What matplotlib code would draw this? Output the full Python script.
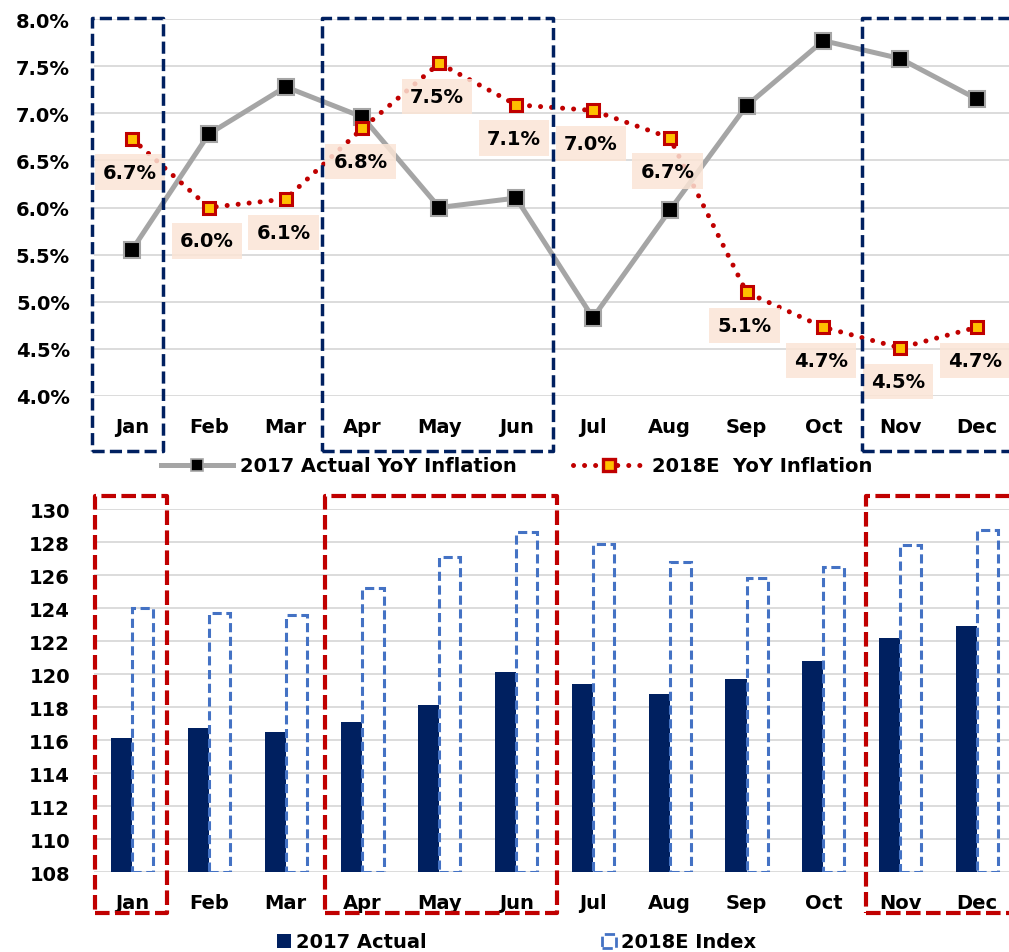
import numpy as np
import matplotlib
matplotlib.use("Agg")
import matplotlib.pyplot as plt
from matplotlib.patches import Rectangle, Patch
from matplotlib.lines import Line2D
from matplotlib.ticker import MultipleLocator, FuncFormatter
from matplotlib.transforms import blended_transform_factory

months = ["Jan", "Feb", "Mar", "Apr", "May", "Jun",
          "Jul", "Aug", "Sep", "Oct", "Nov", "Dec"]

# YoY inflation, %
infl_2017 = [5.55, 6.78, 7.28, 6.96, 6.00, 6.10, 4.83, 5.97, 7.08, 7.77, 7.58, 7.15]
infl_2018e = [6.73, 6.00, 6.09, 6.84, 7.53, 7.09, 7.03, 6.74, 5.10, 4.73, 4.51, 4.73]

# price index
index_2017 = [116.1, 116.7, 116.5, 117.1, 118.1, 120.1, 119.4, 118.8, 119.7, 120.8, 122.2, 122.9]
index_2018e = [124.0, 123.7, 123.6, 125.2, 127.1, 128.6, 127.9, 126.8, 125.8, 126.5, 127.8, 128.7]

NAVY = "#002060"
RED = "#C00000"
GREY = "#A5A5A5"
BLUE = "#4472C4"
GOLD = "#FFC000"
PEACH = "#FBE5D6"
GRID = "#D9D9D9"

plt.rcParams["font.family"] = "DejaVu Sans"
plt.rcParams["font.weight"] = "bold"

fig = plt.figure(figsize=(10.09, 9.53), dpi=100)
W, H = 1009.0, 953.0
# axes placed in pixel terms (left, bottom px of plot area)
ax1 = fig.add_axes([93.6 / W, (H - 397) / H, 921.8 / W, 377 / H])
ax2 = fig.add_axes([93.6 / W, (H - 873) / H, 921.8 / W, 363 / H])

x = np.arange(len(months))


def style_axis(ax):
    for s in ax.spines.values():
        s.set_visible(False)
    ax.grid(axis="y", color=GRID, linewidth=1.3)
    ax.set_axisbelow(True)
    ax.set_xlim(-0.5, len(months) - 0.5)
    ax.set_xticks(x)
    ax.set_xticklabels(months)
    ax.tick_params(axis="x", length=0, pad=15, labelsize=14)
    ax.tick_params(axis="y", length=0, pad=17, labelsize=14)


def draw_boxes(ax, spans, y0, y1, color, lw, dashes):
    tr = blended_transform_factory(ax.transData, ax.transAxes)
    for a, b in spans:
        r = Rectangle((a, y0), b - a, y1 - y0, transform=tr, fill=False,
                      edgecolor=color, linewidth=lw, linestyle=(0, dashes),
                      clip_on=False, zorder=6, joinstyle="round")
        ax.add_patch(r)


# ---- top chart: inflation lines
style_axis(ax1)
ax1.set_ylim(4.0, 8.0)
ax1.yaxis.set_major_locator(MultipleLocator(0.5))
ax1.yaxis.set_major_formatter(FuncFormatter(lambda v, p: f"{v:.1f}%"))

ax1.plot(x, infl_2017, color=GREY, linewidth=3.6, marker="s", markersize=12,
         markerfacecolor="black", markeredgecolor=GREY, markeredgewidth=1.5,
         zorder=3, label="2017 Actual YoY Inflation")
ax1.plot(x, infl_2018e, color=RED, linewidth=3.6, linestyle=(0, (0.01, 2.2)),
         dash_capstyle="round", marker="s", markersize=9,
         markerfacecolor=GOLD, markeredgecolor=RED, markeredgewidth=2.2,
         zorder=4, label="2018E  YoY Inflation")

for i, v in enumerate(infl_2018e):
    ax1.annotate(f"{v:.1f}%", (i, v), xytext=(-1.5, -24), textcoords="offset points",
                 ha="center", va="center", fontsize=14, fontweight="bold",
                 bbox=dict(boxstyle="square,pad=0.42", facecolor=PEACH,
                           edgecolor="none", alpha=0.85), zorder=5)

draw_boxes(ax1, [(-0.52, 0.40), (2.47, 5.48), (9.505, 11.8)],
           -0.145, 1.003, NAVY, 2.5, (3.5, 1.5))

# ---- bottom chart: index bars
style_axis(ax2)
ax2.set_ylim(108, 130)
ax2.yaxis.set_major_locator(MultipleLocator(2))

bw = 0.275
base = 108
ax2.bar(x - bw / 2, np.array(index_2017) - base, bw, bottom=base, color=NAVY,
        zorder=3, label="2017 Actual")
ax2.bar(x + bw / 2, np.array(index_2018e) - base, bw, bottom=base,
        facecolor="none", edgecolor=BLUE, linewidth=2.2,
        linestyle=(0, (3, 1.5)), zorder=3, label="2018E Index")

draw_boxes(ax2, [(-0.48, 0.45), (2.51, 5.53), (9.56, 11.8)],
           -0.113, 1.037, RED, 3, (3.5, 1.3))

# ---- legends
h1 = [Line2D([], [], color=GREY, linewidth=3.6, marker="s", markersize=9,
             markerfacecolor="black", markeredgecolor=GREY, markeredgewidth=1.2),
      Line2D([], [], color=RED, linewidth=3.6, linestyle=(0, (0.01, 2.2)),
             dash_capstyle="round", marker="s", markersize=9,
             markerfacecolor=GOLD, markeredgecolor=RED, markeredgewidth=2.4)]
fig.legend(h1, ["2017 Actual YoY Inflation", "2018E  YoY Inflation"],
           loc="center", bbox_to_anchor=(0.512, (H - 467) / H), ncol=2,
           frameon=False, handlelength=3.7, handletextpad=0.35,
           columnspacing=2.9, prop={"weight": "bold", "size": 14})

h2 = [Patch(facecolor=NAVY, edgecolor="none"),
      Patch(facecolor="white", edgecolor=BLUE, linewidth=2, linestyle="--")]
fig.legend(h2, ["2017 Actual", "2018E Index"],
           loc="center", bbox_to_anchor=(0.512, (H - 943) / H), ncol=2,
           frameon=False, handlelength=0.75, handleheight=0.75,
           handletextpad=0.25, columnspacing=9,
           prop={"weight": "bold", "size": 14})

fig.savefig("out.png", dpi=100)
